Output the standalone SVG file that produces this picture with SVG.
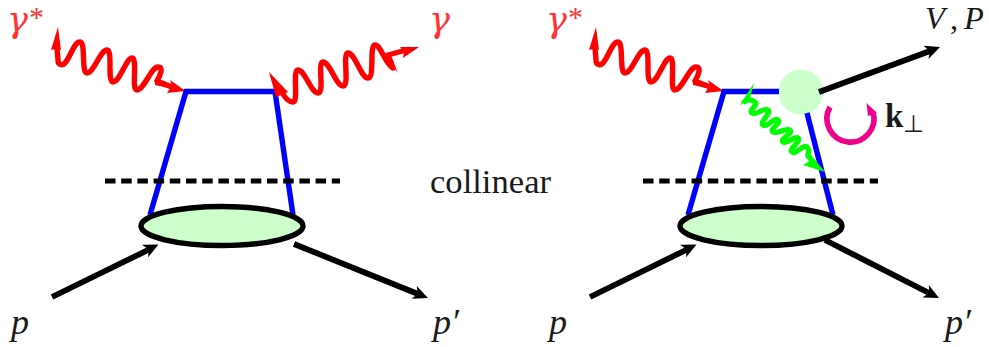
<svg xmlns="http://www.w3.org/2000/svg" width="989" height="347" viewBox="0 0 989 347">
<style>
.ph{fill:none;stroke:#f00;stroke-width:5.4;stroke-linejoin:round}
.ar{fill:#f00}
.bl{fill:none;stroke:#00f;stroke-width:5.4;stroke-linejoin:miter}
.da{fill:none;stroke:#000;stroke-width:5;stroke-dasharray:10.5 5.7}
.bk{fill:none;stroke:#000;stroke-width:5.800}
.el{fill:#cfc;stroke:#000;stroke-width:5.400}
text{font-family:"Liberation Serif","Times New Roman",serif;fill:#1a1a1a}
.i{font-style:italic;font-size:36px}
.g{font-family:"DejaVu Serif",serif;font-style:italic;font-size:35px;fill:#f33}
.s{font-family:"Liberation Serif",serif;font-style:normal;font-size:30px;fill:#f33}
</style>
<defs>
<path id="wave" class="ph" d="M57 48L58 60C58 65 62 66 65 63C71 56 74 42 80 42C86 42 81 73 87 73C94 73 100 50 107 50C113 50 107 82 113 82C120 82 126 58 132 58C138 58 131 90 137 90C144 90 151 67 158 67C164 67 160 76 157 81L172 87"/>
<path id="wh" class="ar" d="M185.500 91L170 80L172 86L155 82L155 85L170 88.500L167 93Z"/>
<path id="sh" class="ar" d="M58 27L51 50L53 49.500L57 49L61 50Z"/>
</defs>
<g id="meson-blob"><circle cx="801" cy="92" r="22.500" fill="#cfc"/></g>
<g id="connectors">
<use href="#wave"/><use href="#wh"/><use href="#sh"/>
<path class="bl" d="M150 215L186 91.500H275L293 215"/>
<path class="ph" d="M281 90C285 99 289 102 293 102C299 102 292 70 298 70C305 70 311 93 318 93C325 93 317 62 323 62C330 62 336 86 343 86C350 86 342 53 348 53C355 53 361 78 368 78C375 78 369 45 375 45C381 45 385 64 393 68L388 55L410 49"/>
<path class="ar" d="M269 72L276 97L284 94L288 92Z"/>
<path class="ar" d="M419 47L400 47L404 52L403 58Z"/>
<path class="ar" d="M398 73L385 56L393 60L394 64Z"/>
<path class="da" d="M105 181H340"/>
<path class="bk" d="M52 297L150 249"/>
<path transform="translate(158.500 244.500) rotate(-26)" d="M0 0L-15 -7L-11 0L-15 7Z"/>
<path class="bk" d="M294 244L418 294"/>
<path transform="translate(428 298) rotate(22)" d="M0 0L-15 -7L-11 0L-15 7Z"/>
<g transform="translate(538 0)"><use href="#wave"/><use href="#wh"/><use href="#sh"/></g>
<path class="bl" d="M688 215L724 91.500H779M807 113L833 215"/>
<path class="da" d="M643 181H878"/>
<path class="bk" d="M590 297L688 249"/>
<path transform="translate(696.500 244.500) rotate(-26)" d="M0 0L-15 -7L-11 0L-15 7Z"/>
<path class="bk" d="M825 240L930 293.500"/>
<path transform="translate(939 298) rotate(27)" d="M0 0L-15 -7L-11 0L-15 7Z"/>
<path class="bk" d="M819 92L930 51"/>
<path transform="translate(940 47) rotate(-21)" d="M0 0L-15 -7L-11 0L-15 7Z"/>
<path fill="none" stroke="#0f0" stroke-width="5.200" stroke-linejoin="round" d="M743 103C747 99 751 99 755 102C759 105 748 110 752 113C756 116 764 107 768 110C772 113 759 122 763 125C767 128 774 117 778 120C782 123 769 129 773 132C777 135 786 127 790 130C794 133 779 139 783 142C787 145 794 135 798 138C802 141 788 149 792 152C796 155 803 144 807 147C811 150 807 154 808 156L816 165"/>
<path fill="#0f0" d="M754 83L740 105L746 102L750 98Z"/>
<path fill="#0f0" d="M825 172L803 165L811 160L809 153Z"/>
<path fill="none" stroke="#e08" stroke-width="5.600" d="M830 107A23.500 23.500 0 1 0 873 112"/>
<path fill="#e08" d="M866.500 103L877 113L868 116Z"/>
</g>
<g id="proton-left"><ellipse class="el" cx="222" cy="226" rx="81" ry="19.500"/></g>
<g id="proton-right"><ellipse class="el" cx="761" cy="226" rx="81" ry="19.500"/></g>
<g id="labels">
<text class="g" x="7" y="32">γ<tspan class="s" dx="1" dy="-5">*</tspan></text>
<text class="g" x="429" y="32">γ</text>
<text class="g" x="546" y="32">γ<tspan class="s" dx="1" dy="-5">*</tspan></text>
<text x="925" y="29" font-size="32.500" font-style="italic">V<tspan x="950" font-style="normal">,</tspan><tspan x="964">P</tspan></text>
<text x="430" y="193" font-size="33" textLength="121" lengthAdjust="spacingAndGlyphs">collinear</text>
<text class="i" x="11" y="334">p</text>
<text class="i" x="433" y="334">p′</text>
<text class="i" x="549" y="334">p</text>
<text class="i" x="945" y="334">p′</text>
<text x="885" y="127" font-size="33" font-weight="bold">k<tspan font-size="24" font-weight="normal" dy="5">⊥</tspan></text>
</g>
</svg>
